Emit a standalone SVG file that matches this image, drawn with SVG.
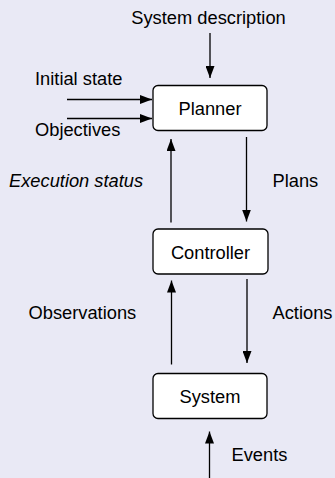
<svg xmlns="http://www.w3.org/2000/svg" width="335" height="478" viewBox="0 0 335 478">
  <defs>
    <marker id="arrow" viewBox="0 0 12 9" refX="12" refY="4.5" markerWidth="12" markerHeight="9" markerUnits="userSpaceOnUse" orient="auto">
      <path d="M0,0 L12,4.5 L0,9 Z" fill="#000"/>
    </marker>
    <style>
      text { font-family: "Liberation Sans", Arial, Helvetica, sans-serif; font-size: 18.3px; fill: #000; }
      .box { fill: #fff; stroke: #000; stroke-width: 1.3; }
      .mid { text-anchor: middle; }
      .link { stroke: #000; stroke-width: 1.3; fill: none; marker-end: url(#arrow); }
      .it { font-style: italic; }
    </style>
  </defs>
  <rect width="335" height="478" fill="#E9E9F5"/>

  <!-- connectors -->
  <g id="connectors">
    <line class="link" x1="210" y1="33" x2="210" y2="78"/>
    <line class="link" x1="67" y1="99.5" x2="152" y2="99.5"/>
    <line class="link" x1="67" y1="118.5" x2="152" y2="118.5"/>
    <line class="link" x1="246.5" y1="137" x2="246.5" y2="221.5"/>
    <line class="link" x1="171" y1="222.5" x2="171" y2="139"/>
    <line class="link" x1="247" y1="279" x2="247" y2="363"/>
    <line class="link" x1="171.5" y1="364.5" x2="171.5" y2="280.5"/>
    <line class="link" x1="209.5" y1="478" x2="209.5" y2="431.5"/>
  </g>

  <!-- connector labels -->
  <g id="labels">
    <text x="208.5" y="23.5" class="mid">System description</text>
    <text x="35" y="85">Initial state</text>
    <text x="35" y="136">Objectives</text>
    <text x="9" y="186.5" class="it">Execution status</text>
    <text x="272.5" y="186.5">Plans</text>
    <text x="28.5" y="318.5">Observations</text>
    <text x="272.5" y="318.5">Actions</text>
    <text x="231.5" y="461">Events</text>
  </g>

  <g id="planner">
    <rect class="box" x="153" y="85.5" width="114" height="45" rx="5"/>
    <text x="210" y="114.5" class="mid">Planner</text>
  </g>
  <g id="controller">
    <rect class="box" x="153" y="229" width="115" height="45" rx="5"/>
    <text x="210.5" y="258.5" class="mid">Controller</text>
  </g>
  <g id="system">
    <rect class="box" x="153" y="373.5" width="114" height="45" rx="5"/>
    <text x="210" y="402.5" class="mid">System</text>
  </g>
</svg>
